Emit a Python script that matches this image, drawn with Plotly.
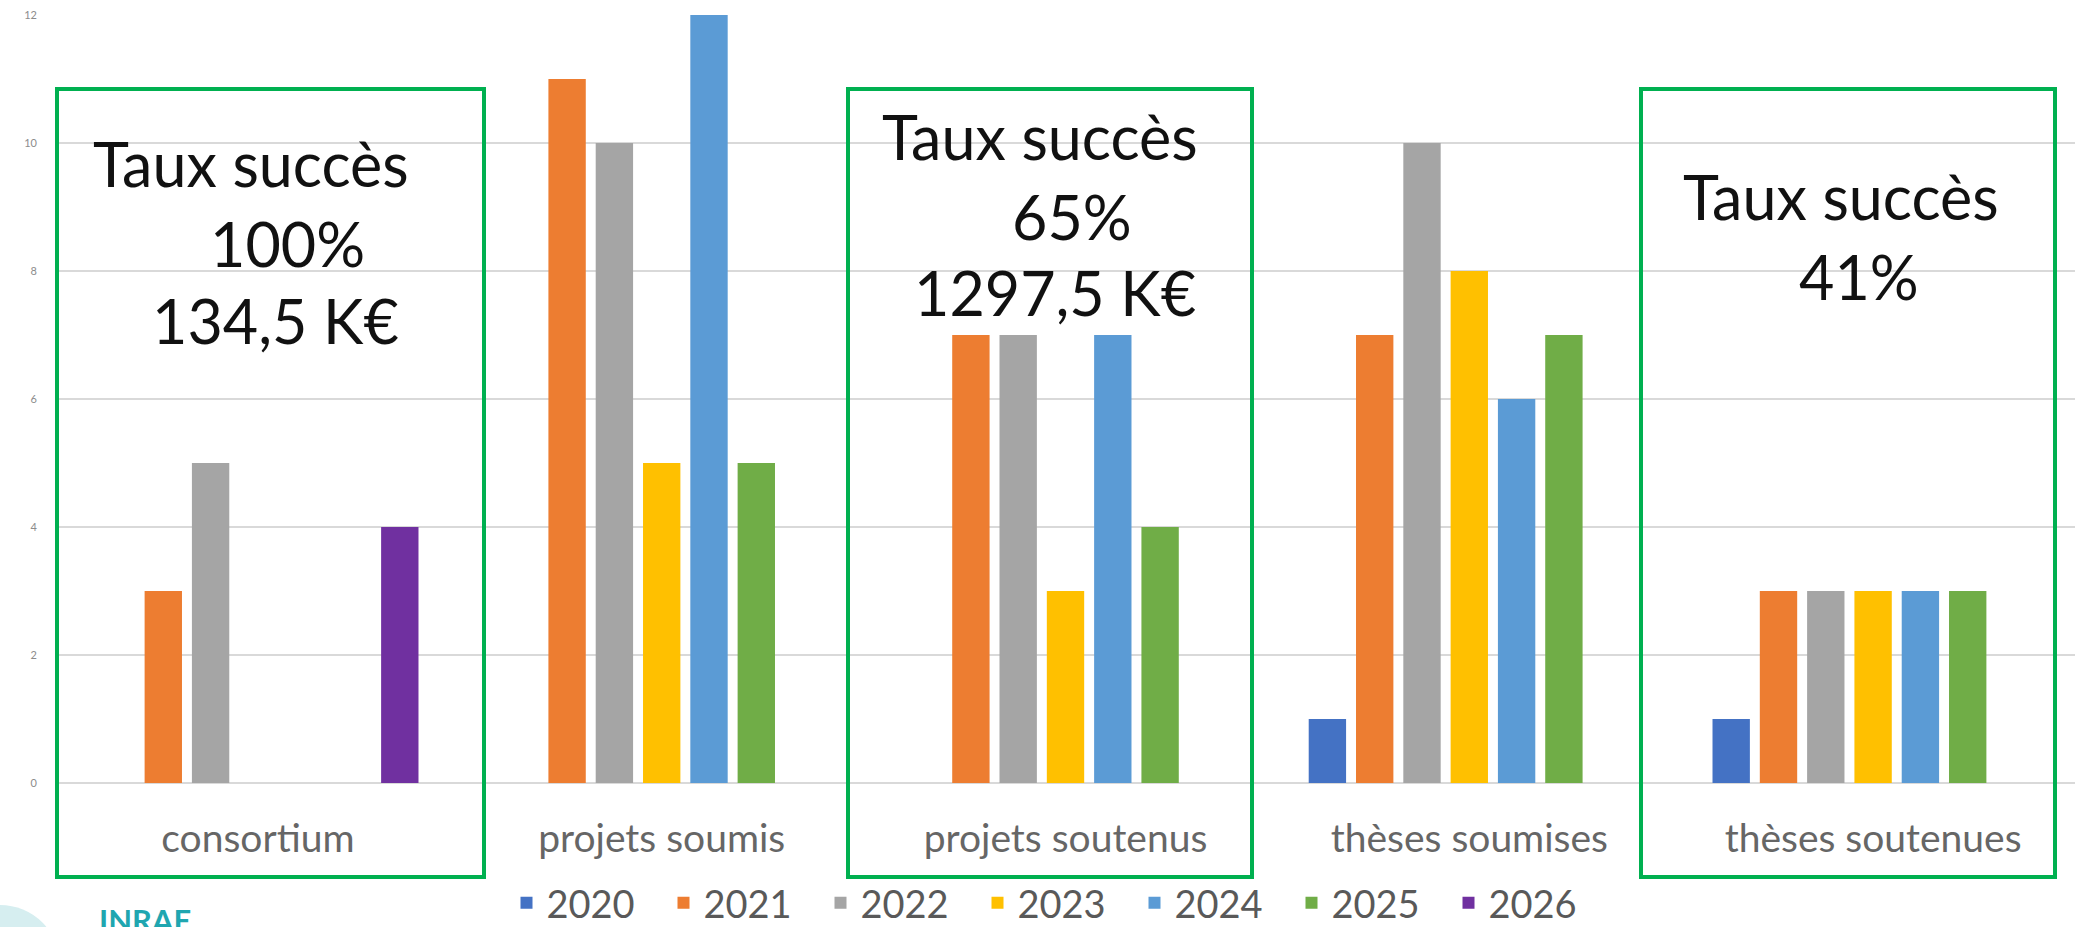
import plotly.graph_objects as go

categories = ["consortium", "projets soumis", "projets soutenus", "thèses soumises", "thèses soutenues"]
years = ["2020", "2021", "2022", "2023", "2024", "2025", "2026"]

v2020 = [0, 0, 0, 1, 1]
v2021 = [3, 11, 7, 7, 3]
v2022 = [5, 10, 7, 10, 3]
v2023 = [0, 5, 3, 8, 3]
v2024 = [0, 12, 7, 6, 3]
v2025 = [0, 5, 4, 7, 3]
v2026 = [4, 0, 0, 0, 0]

year_colors = ["#4472C4", "#ED7D31", "#A5A5A5", "#FFC000", "#5B9BD5", "#70AD47", "#7030A0"]

# success-rate notes written inside the green boxes
notes = [
    ["Taux succès", "100%", "134,5 K€"],
    ["Taux succès", "65%", "1297,5 K€"],
    ["Taux succès", "41%"],
]

W, H = 2075, 927
L, T, B = 56, 15, 144  # margins in px
plot_w = W - L
plot_h = H - T - B


def px_x(px):
    return (px - L) / plot_w


def px_y(py):
    return (H - B - py) / plot_h


fig = go.Figure()
series = [v2020, v2021, v2022, v2023, v2024, v2025, v2026]
for year, vals, col in zip(years, series, year_colors):
    fig.add_trace(go.Bar(
        x=categories,
        y=[v if v else None for v in vals],
        name=year,
        marker=dict(color=col, line=dict(width=0)),
    ))

# green frames (in pixel positions measured on the original)
boxes = [(57, 484), (848, 1252), (1641, 2055)]
for x0, x1 in boxes:
    fig.add_shape(type="rect", xref="paper", yref="paper",
                  x0=px_x(x0), x1=px_x(x1), y0=px_y(877), y1=px_y(89),
                  line=dict(color="#00B050", width=4), layer="above")

# text lines: (text, center x px, center y px)
note_pos = [
    [(251, 163), (287, 243), (275, 320)],
    [(1040, 136), (1072, 216), (1055, 292)],
    [(1841, 196), (1859, 276)],
]
for lines, pos in zip(notes, note_pos):
    for txt, (cx, cy) in zip(lines, pos):
        fig.add_annotation(text=txt, xref="paper", yref="paper",
                           x=px_x(cx), y=px_y(cy), showarrow=False,
                           xanchor="center", yanchor="middle",
                           font=dict(family="Lato", size=61, color="#111111"))

# logo fragment at bottom-left
fig.add_shape(type="circle", xref="paper", yref="paper",
              x0=px_x(-60), x1=px_x(60), y0=px_y(1025), y1=px_y(905),
              fillcolor="#D6EEF0", line=dict(width=0), layer="below")
fig.add_annotation(text="<b>INRAE</b>", xref="paper", yref="paper",
                   x=px_x(97), y=px_y(899), xanchor="left", yanchor="top",
                   showarrow=False, font=dict(family="Lato", size=31, color="#1FA6B0"))

fig.update_layout(
    width=W, height=H,
    margin=dict(l=L, r=0, t=T, b=B, autoexpand=False),
    paper_bgcolor="white", plot_bgcolor="white",
    barmode="group", bargap=0.18, bargroupgap=0.21,
    font=dict(family="Lato", color="#595959"),
    legend=dict(orientation="h", x=px_x(1056), xanchor="center",
                y=px_y(903), yanchor="middle",
                font=dict(size=38, color="#595959"),
                entrywidth=112, entrywidthmode="pixels",
                bgcolor="rgba(0,0,0,0)"),
)
fig.update_xaxes(showline=False, ticks="", showgrid=False, automargin=False,
                 tickfont=dict(size=39, color="#666666"), ticklabelstandoff=29)
fig.update_yaxes(range=[0, 12], tickvals=[0, 2, 4, 6, 8, 10, 12], automargin=False,
                 showgrid=True, gridcolor="#D9D9D9", gridwidth=2,
                 zeroline=True, zerolinecolor="#D9D9D9", zerolinewidth=2,
                 showline=False, ticks="",
                 tickfont=dict(size=11, color="#8C8C8C"), ticklabelstandoff=18)

# drop the browser's default 8px body margin so the figure sits at (0, 0)
fig.write_html("out.html", config={"displayModeBar": False},
               post_script="document.body.style.margin='0';")
